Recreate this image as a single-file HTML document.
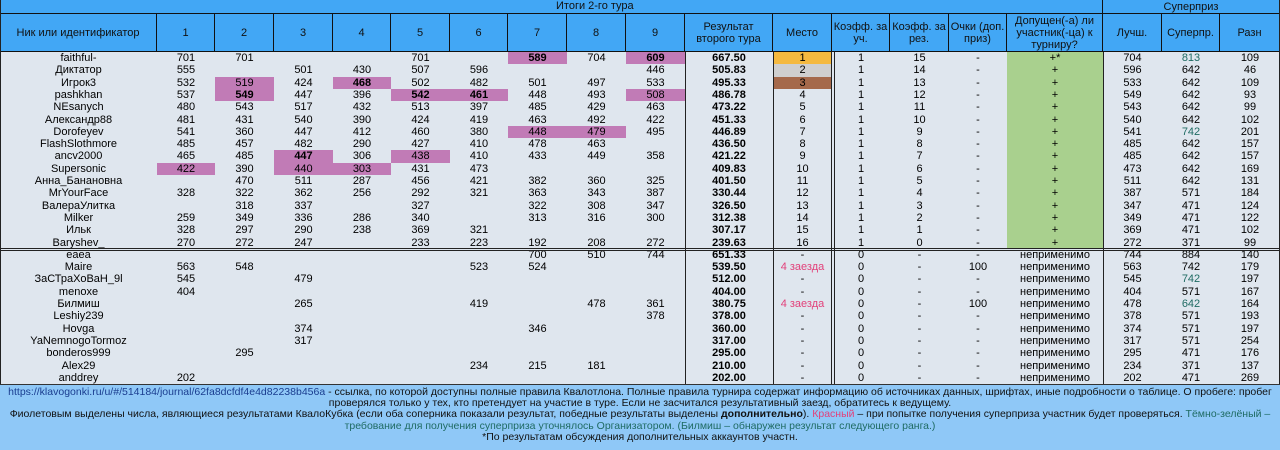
<!DOCTYPE html>
<html><head><meta charset="utf-8">
<style>
body{margin:0;width:1280px;height:450px;overflow:hidden;background:#dfe6ee;font-family:"Liberation Sans","DejaVu Sans",sans-serif;}
#wrap{position:relative;width:1280px;height:450px;}
.c{position:absolute;box-sizing:border-box;font-size:11px;text-align:center;white-space:nowrap;color:#000;overflow:hidden;}
.h{position:absolute;box-sizing:border-box;background:#42a7f5;border-right:1px solid #111;border-bottom:1px solid #111;display:flex;align-items:center;justify-content:center;text-align:center;font-size:11px;line-height:12px;color:#111;}
.vl{position:absolute;width:1px;background:#222;}
#foot{position:absolute;left:0;top:384px;width:1280px;height:66px;background:#8fc8f7;border-top:1px solid #333;box-sizing:border-box;font-size:10.5px;line-height:11.2px;text-align:center;padding-top:2px;color:#111;}
.lnk{color:#1a3d8f}.red{color:#e2407a}.tl{color:#1f6b63}
</style></head><body>
<div id="wrap">
<div class="h" style="left:0;top:0;width:1103px;height:14px;border-right:1px solid #111;"><span style="position:absolute;left:556px;top:0">Итоги 2-го тура</span></div>
<div class="h" style="left:1103px;top:0;width:177px;height:14px;">Суперприз</div>
<div id="hdr"></div>
<div id="body"></div>
<div id="foot">
<span class="lnk">https://klavogonki.ru/u/#/514184/journal/62fa8dcfdf4e4d82238b456a</span> - ссылка, по которой доступны полные правила Квалотлона. Полные правила турнира содержат информацию об источниках данных, шрифтах, иные подробности о таблице. О пробеге: пробег<br>
проверялся только у тех, кто претендует на участие в туре. Если не засчитался результативный заезд, обратитесь к ведущему.<br>
Фиолетовым выделены числа, являющиеся результатами КвалоКубка (если оба соперника показали результат, победные результаты выделены <b>дополнительно</b>). <span class="red">Красный</span> – при попытке получения суперприза участник будет проверяться. <span class="tl">Тёмно-зелёный –</span><br>
<span class="tl">требование для получения суперприза уточнялось Организатором. (Билмиш – обнаружен результат следующего ранга.)</span><br>
*По результатам обсуждения дополнительных аккаунтов участн.
</div>
</div>
<script>
const edges=[0,157,215,274,333,391,450,508,567,626,685,773,832,890,949,1007,1103,1162,1220,1280];
const headers=["Ник или идентификатор","1","2","3","4","5","6","7","8","9","Результат<br>второго тура","Место","Коэфф. за<br>уч.","Коэфф. за<br>рез.","Очки (доп.<br>приз)","Допущен(-а) ли<br>участник(-ца) к<br>турниру?","Лучш.","Суперпр.","Разн"];
const names=["faithful-","Диктатор","Игрок3","pashkhan","NEsanych","Александр88","Dorofeyev","FlashSlothmore","ancv2000","Supersonic","Анна_Банановна","MrYourFace","ВалераУлитка","Milker","Ильк","Baryshev_","eaea","Maire","ЗаСТраХоВаН_9l","menoxe","Билмиш","Leshiy239","Hovga","YaNemnogoTormoz","bonderos999","Alex29","anddrey"];
const scores=[
[701,701,null,null,701,null,589,704,609],
[555,null,501,430,507,596,null,null,446],
[532,519,424,468,502,482,501,497,533],
[537,549,447,396,542,461,448,493,508],
[480,543,517,432,513,397,485,429,463],
[481,431,540,390,424,419,463,492,422],
[541,360,447,412,460,380,448,479,495],
[485,457,482,290,427,410,478,463,null],
[465,485,447,306,438,410,433,449,358],
[422,390,440,303,431,473,null,null,null],
[null,470,511,287,456,421,382,360,325],
[328,322,362,256,292,321,363,343,387],
[null,318,337,null,327,null,322,308,347],
[259,349,336,286,340,null,313,316,300],
[328,297,290,238,369,321,null,null,null],
[270,272,247,null,233,223,192,208,272],
[null,null,null,null,null,null,700,510,744],
[563,548,null,null,null,523,524,null,null],
[545,null,479,null,null,null,null,null,null],
[404,null,null,null,null,null,null,null,null],
[null,null,265,null,null,419,null,478,361],
[null,null,null,null,null,null,null,null,378],
[null,null,374,null,null,null,346,null,null],
[null,null,317,null,null,null,null,null,null],
[null,295,null,null,null,null,null,null,null],
[null,null,null,null,null,234,215,181,null],
[202,null,null,null,null,null,null,null,null]];
const purple=[[0,6],[0,8],[2,1],[2,3],[3,1],[3,4],[3,5],[3,8],[6,6],[6,7],[8,2],[8,4],[9,0],[9,2],[9,3]];
const boldP=[[0,6],[0,8],[2,3],[3,1],[3,4],[3,5],[8,2]];
const results=["667.50","505.83","495.33","486.78","473.22","451.33","446.89","436.50","421.22","409.83","401.50","330.44","326.50","312.38","307.17","239.63","651.33","539.50","512.00","404.00","380.75","378.00","360.00","317.00","295.00","210.00","202.00"];
const places=["1","2","3","4","5","6","7","8","9","10","11","12","13","14","15","16","-","4 заезда","-","-","4 заезда","-","-","-","-","-","-"];
const k1=[1,1,1,1,1,1,1,1,1,1,1,1,1,1,1,1,0,0,0,0,0,0,0,0,0,0,0];
const k2=["15","14","13","12","11","10","9","8","7","6","5","4","3","2","1","0","-","-","-","-","-","-","-","-","-","-","-"];
const pts=["-","-","-","-","-","-","-","-","-","-","-","-","-","-","-","-","-","100","-","-","100","-","-","-","-","-","-"];
const admitted=["+*","+","+","+","+","+","+","+","+","+","+","+","+","+","+","+","неприменимо","неприменимо","неприменимо","неприменимо","неприменимо","неприменимо","неприменимо","неприменимо","неприменимо","неприменимо","неприменимо"];
const best=[704,596,533,549,543,540,541,485,485,473,511,387,347,349,369,272,744,563,545,404,478,378,374,317,295,234,202];
const superpr=[813,642,642,642,642,642,742,642,642,642,642,571,471,471,471,371,884,742,742,571,642,571,571,571,471,371,471];
const diff=[109,46,109,93,99,102,201,157,157,169,131,184,124,122,102,99,140,179,197,167,164,193,197,254,176,137,269];
const tealSp=[0,6,18,20];
const Y0=52,RH=12.3;
const hdr=document.getElementById('hdr'),body=document.getElementById('body');
for(let i=0;i<headers.length;i++){
  const d=document.createElement('div');d.className='h';
  d.style.cssText=`left:${edges[i]}px;top:14px;width:${edges[i+1]-edges[i]}px;height:${Y0-14}px;`;
  d.innerHTML=headers[i];
  
  
  hdr.appendChild(d);
}
function cell(col,row,txt,opt){
  opt=opt||{};
  const d=document.createElement('div');d.className='c';
  const y=Math.round(Y0+row*RH),y2=Math.round(Y0+(row+1)*RH);
  d.style.left=edges[col]+'px';d.style.top=y+'px';
  d.style.width=(edges[col+1]-edges[col])+'px';d.style.height=(y2-y)+'px';
  d.style.lineHeight=(y2-y)+'px';
  if(opt.bg)d.style.background=opt.bg;
  if(opt.bold)d.style.fontWeight='bold';
  if(opt.color)d.style.color=opt.color;
  d.textContent=txt;
  
  
  body.appendChild(d);
}
const has=(arr,r,c)=>arr.some(p=>p[0]===r&&p[1]===c);
const medal=["#f5b93f","#cfcfcf","#a5694b"];
for(let r=0;r<names.length;r++){
  cell(0,r,names[r],{name:'player-name'});
  for(let c=0;c<9;c++){
    const v=scores[r][c];const p=has(purple,r,c);
    cell(c+1,r,v==null?'':String(v),{bg:p?'#c17bb6':null,bold:has(boldP,r,c),name:'round-score'});
  }
  cell(10,r,results[r],{bold:true,name:'round-result'});
  cell(11,r,places[r],{bg:r<3?medal[r]:null,color:places[r]==='4 заезда'?'#e2407a':null,name:'place'});
  cell(12,r,String(k1[r]),{name:'coef-participation'});
  cell(13,r,k2[r],{name:'coef-result'});
  cell(14,r,pts[r],{name:'bonus-points'});
  cell(15,r,admitted[r],{bg:r<16?'#a9d08e':null,name:'admitted'});
  cell(16,r,String(best[r]),{name:'best-score'});
  cell(17,r,String(superpr[r]),{color:tealSp.includes(r)?'#1f6b63':null,name:'superprize'});
  cell(18,r,String(diff[r]),{name:'difference'});
}
function vline(x,y1,y2,w){const d=document.createElement('div');d.className='vl';d.style.cssText=`left:${x}px;top:${y1}px;height:${y2-y1}px;width:${w||1}px`;


body.appendChild(d);}
[685,773,1103].forEach(x=>vline(x,Y0,384));
vline(831,Y0,384,1);vline(834,Y0,384,1);
vline(0,0,450);vline(1279,0,450);
const sep=document.createElement('div');
sep.style.cssText=`position:absolute;left:0;top:${Math.round(Y0+16*RH)-1}px;width:1280px;height:3px;border-top:1px solid #222;border-bottom:1px solid #222;box-sizing:border-box;`;


body.appendChild(sep);
</script>
</body></html>
